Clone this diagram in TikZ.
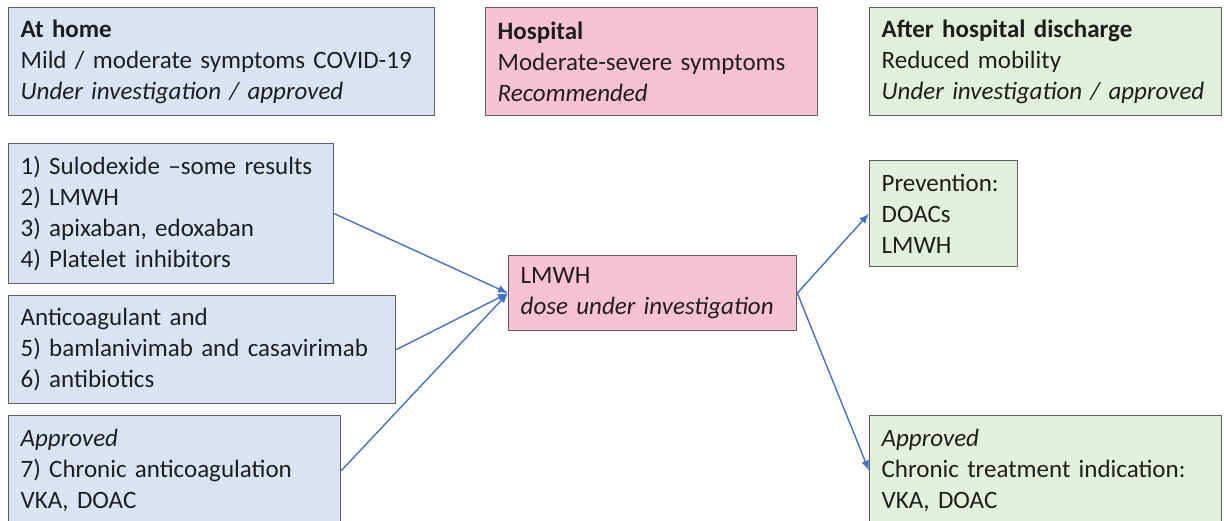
\documentclass[tikz,border=0pt]{standalone}
\usepackage{fontspec}
\setmainfont{Carlito}[WordSpace=0.85]
\usetikzlibrary{arrows.meta}

\definecolor{boxline}{HTML}{5F5F5F}
\definecolor{homeblue}{HTML}{DAE3F3}
\definecolor{hosppink}{HTML}{F8C1D4}
\definecolor{dischgreen}{HTML}{E2EFDA}
\definecolor{arrowblue}{HTML}{4472C4}
\definecolor{inktext}{HTML}{1E1E1E}

\begin{document}
\begin{tikzpicture}[x=1pt,y=-1pt]

        \clip (0,0) rectangle (1224,521);

        \begin{scope}[every node/.style={draw=boxline, line width=1.3pt, anchor=north west,
            align=left, inner xsep=12pt, text=inktext, font=\fontsize{25}{31}\selectfont}]
          % headers
          \node[fill=homeblue,   text width=402pt, minimum height=108pt] (home)  at (8,7)
            {\textbf{At home}\\Mild / moderate symptoms COVID-19\\\textit{Under investigation / approved}};
          \node[fill=hosppink,   text width=308pt, minimum height=108pt] (hosp)  at (485,7)
            {\textbf{Hospital}\\Moderate-severe symptoms\\\textit{Recommended}};
          \node[fill=dischgreen, text width=328pt, minimum height=108pt] (disch) at (869,7)
            {\textbf{After hospital discharge}\\Reduced mobility\\\textit{Under investigation / approved}};
          % at home
          \node[fill=homeblue, text width=301pt, minimum height=140pt] (s1) at (8,143)
            {1) Sulodexide –some results\\2) LMWH\\3) apixaban, edoxaban\\4) Platelet inhibitors};
          \node[fill=homeblue, text width=363pt, minimum height=108pt] (s2) at (8,295)
            {Anticoagulant and\\5) bamlanivimab and casavirimab\\6) antibiotics};
          \node[fill=homeblue, text width=308pt, minimum height=110pt] (s3) at (8,415)
            {\textit{Approved}\\7) Chronic anticoagulation\\VKA, DOAC};
          % hospital
          \node[fill=hosppink, text width=264pt, minimum height=75pt] (lmwh) at (508,255)
            {LMWH\\\textit{dose under investigation}};
          % after discharge
          \node[fill=dischgreen, text width=124pt, minimum height=106pt] (prev) at (869,160)
            {Prevention:\\DOACs\\LMWH};
          \node[fill=dischgreen, text width=328pt, minimum height=110pt] (chron) at (869,415)
            {\textit{Approved}\\Chronic treatment indication:\\VKA, DOAC};
        \end{scope}

        \begin{scope}[every edge/.style={draw=arrowblue, line width=1.4pt,
            -{Latex[length=10pt,width=8pt]}}]
          \path (s1.east)   edge (lmwh.west);
          \path (s2.east)   edge (lmwh.west);
          \path (s3.east)   edge (lmwh.west);
          \path (lmwh.east) edge (prev.west);
          \path (lmwh.east) edge (chron.west);
        \end{scope}

      \end{tikzpicture}
\end{document}
